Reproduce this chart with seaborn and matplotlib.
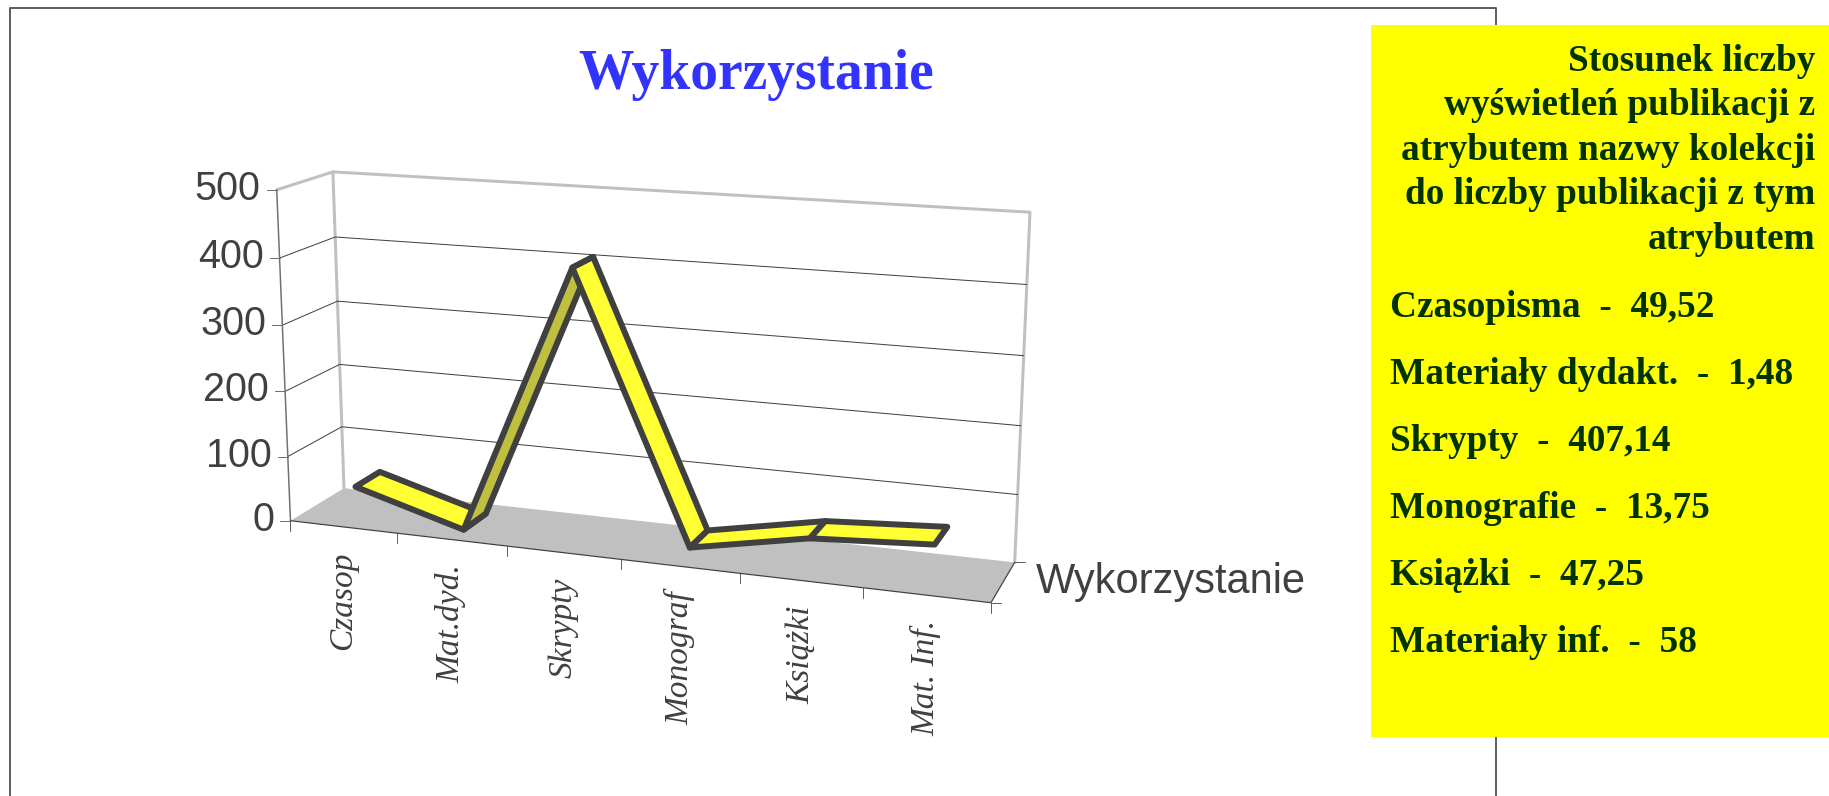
import numpy as np
import pandas as pd
import seaborn as sns
import matplotlib
matplotlib.use('Agg')
import matplotlib.pyplot as plt
from matplotlib.patches import Rectangle

categories = ['Czasop', 'Mat.dyd.', 'Skrypty', 'Monograf', 'Książki', 'Mat. Inf.']
values = [49.52, 1.48, 407.14, 13.75, 47.25, 58]
y_ticks = [0, 100, 200, 300, 400, 500]
series_name = 'Wykorzystanie'

panel_head = ['Stosunek liczby', 'wyświetleń publikacji z', 'atrybutem nazwy kolekcji',
              'do liczby publikacji z tym', 'atrybutem']
panel_rows = ['Czasopisma  -  49,52', 'Materiały dydakt.  -  1,48', 'Skrypty  -  407,14',
              'Monografie  -  13,75', 'Książki  -  47,25', 'Materiały inf.  -  58']

sns.set_theme(style='white')
plt.rcParams['font.family'] = ['Liberation Sans', 'DejaVu Sans']

DARK = '#404040'
GREY = '#c0c0c0'
W, H = 1829, 796

# box corners of the 3D chart on the page: (category pos, depth, value) -> pixel
box = [((0, 0, 0), (290.5, 520.7)), ((0, 0, 500), (277, 189.3)),
       ((0, 1, 0), (344, 488.3)), ((0, 1, 500), (332.6, 172.3)),
       ((6, 1, 500), (1030, 212.3)), ((6, 1, 0), (1015, 561.7)),
       ((6, 0, 0), (990.6, 603.3))]

rows = []
for (c, d, v), (px, py) in box:
    X = [c / 6, d, v / 500, 1]
    u, w = px / 1000, py / 1000
    rows.append([*X, 0, 0, 0, 0, *[-u * k for k in X]])
    rows.append([0, 0, 0, 0, *X, *[-w * k for k in X]])
P = np.linalg.svd(np.array(rows))[2][-1].reshape(3, 4)


def project(c, d, v):
    p = P @ np.array([c / 6, d, v / 500, 1])
    return p[0] / p[2] * 1000, p[1] / p[2] * 1000


def line(ax, pts, color=DARK, px=1.0, z=2):
    df = pd.DataFrame(pts, columns=['x', 'y'])
    sns.lineplot(data=df, x='x', y='y', sort=False, estimator=None, color=color,
                 linewidth=px * 0.72, zorder=z, ax=ax, legend=False)


fig = plt.figure(figsize=(W / 100, H / 100), dpi=100)
ax = fig.add_axes([0, 0, 1, 1])

# outer frame of the embedded chart
line(ax, [(10, H), (10, 8), (1496, 8), (1496, H)], color='#606060', px=2, z=1)

# floor
floor = [project(0, 0, 0), project(6, 0, 0), project(6, 1, 0), project(0, 1, 0)]
ax.fill(*zip(*floor), color=GREY, lw=0, zorder=1)

# walls
line(ax, [project(0, 0, 500), project(0, 1, 500), project(6, 1, 500), project(6, 1, 0)], color=GREY, px=3)
line(ax, [project(0, 1, 0), project(0, 1, 500)], color=GREY, px=3)

# gridlines
for t in y_ticks[1:-1]:
    line(ax, [project(0, 0, t), project(0, 1, t), project(6, 1, t)], px=1)

# axes
line(ax, [project(0, 0, 0), project(0, 0, 500)], color='#707070', px=1.5)
line(ax, [project(0, 0, 0), project(6, 0, 0), project(6, 1, 0)], px=1.2, z=3)
for t in y_ticks:
    x0, y0 = project(0, 0, t)
    line(ax, [(x0 - 10, y0), (x0, y0)], color='#707070', px=1)
    ax.text(x0 - 16, y0 - 1, str(t), ha='right', va='center', fontsize=28.5, color=DARK)
for i in range(len(categories) + 1):
    x0, y0 = project(i, 0, 0)
    line(ax, [(x0, y0), (x0, y0 + 10)], color='#606060', px=1)
for d in (0, 1):
    x0, y0 = project(6, d, 0)
    line(ax, [(x0, y0), (x0 + 10, y0)], color='#606060', px=1)

# category labels
for i, name in enumerate(categories):
    x0, y0 = project(i + 0.5, 0, 0)
    ax.text(x0, y0 + 25, name, rotation=90, ha='center', va='top', fontsize=24,
            family='Liberation Serif', style='italic', color=DARK)

ax.text(1036, 593, series_name, ha='left', va='baseline', fontsize=30, color=DARK)

# ribbon, only the steep rise shows its darker side
for i in range(len(values) - 1):
    quad = [project(i + 0.5, 0.25, values[i]), project(i + 1.5, 0.25, values[i + 1]),
            project(i + 1.5, 0.72, values[i + 1]), project(i + 0.5, 0.72, values[i])]
    face = '#c0c040' if values[i + 1] - values[i] > 100 else '#ffff33'
    ax.fill(*zip(*quad), color=face, lw=0, zorder=5 + i)
    ax.fill(*zip(*quad), facecolor='none', edgecolor=DARK, lw=4.3, joinstyle='round', zorder=5 + i)

ax.text(756, 89, 'Wykorzystanie', ha='center', va='baseline', fontsize=40, fontweight='bold',
        family='Liberation Serif', color='#3333ff')

# yellow side panel
ax.add_patch(Rectangle((1371, 25), W - 1371, 712, facecolor='#ffff00', edgecolor='none', zorder=20))
for n, txt in enumerate(panel_head):
    ax.text(1815, 70.7 + n * 44.5, txt, ha='right', va='baseline', fontsize=26.8, fontweight='bold',
            family='Liberation Serif', color='#003300', zorder=21)
for n, txt in enumerate(panel_rows):
    ax.text(1390, 316.7 + n * 67, txt, ha='left', va='baseline', fontsize=26.8, fontweight='bold',
            family='Liberation Serif', color='#003300', zorder=21)

ax.set_xlim(0, W)
ax.set_ylim(H, 0)
ax.set_axis_off()

fig.savefig('out.png', dpi=100, facecolor='white')
